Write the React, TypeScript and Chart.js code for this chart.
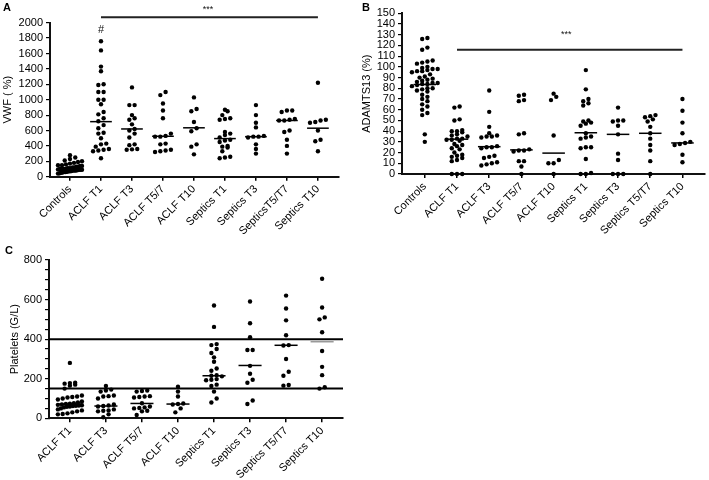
import React, { useEffect, useRef } from 'react';
import { Chart, registerables } from 'chart.js';
Chart.register(...registerables);

const FONT = '"Liberation Sans", Arial, Helvetica, sans-serif';

// ---------- Panel A : VWF ----------
const catsA = ['Controls', 'ACLF T1', 'ACLF T3', 'ACLF T5/7', 'ACLF T10', 'Septics T1', 'Septics T3', 'SepticsT5/T7', 'Septics T10'];
const vwfControls = [280, 250, 230, 210, 200, 190, 180, 170, 160, 150, 150, 140, 140, 130, 130, 120, 120, 110, 110, 110, 100, 100, 100, 100, 95, 90, 90, 90, 85, 80, 80, 80, 75, 70, 70, 65, 60, 60, 55, 50, 45, 40];
const vwfAclfT1 = [1760, 1640, 1430, 1370, 1200, 1190, 1100, 1100, 1000, 1000, 940, 840, 810, 760, 720, 670, 630, 570, 560, 500, 430, 420, 390, 360, 350, 340, 330, 240];
const vwfAclfT3 = [1160, 930, 930, 800, 760, 740, 680, 620, 600, 560, 510, 420, 410, 360, 355, 350];
const vwfAclfT57 = [1100, 1060, 950, 860, 760, 560, 530, 520, 520, 430, 420, 350, 340, 330, 320];
const vwfAclfT10 = [1030, 880, 850, 710, 630, 590, 420, 390, 290];
const vwfSepT1 = [870, 850, 800, 760, 750, 740, 580, 560, 540, 510, 480, 470, 450, 400, 390, 380, 330, 260, 250, 240];
const vwfSepT3 = [930, 800, 700, 640, 530, 520, 520, 510, 420, 360, 300];
const vwfSepT57 = [860, 860, 840, 750, 740, 730, 730, 600, 580, 480, 400, 300];
const vwfSepT10 = [1220, 740, 730, 710, 700, 600, 480, 460, 330];
const vwfMedians = [100, 715, 620, 525, 635, 495, 520, 730, 630];
const vwfTicks = [0, 200, 400, 600, 800, 1000, 1200, 1400, 1600, 1800, 2000];

// ---------- Panel B : ADAMTS13 ----------
const catsB = ['Controls', 'ACLF T1', 'ACLF T3', 'ACLF T5/7', 'ACLF T10', 'Septics T1', 'Septics T3', 'Septics T5/T7', 'Septics T10'];
const adControls = [127, 126, 118, 116, 106, 105, 104, 103, 100, 99, 98, 98, 97, 96, 96, 95, 93, 91, 90, 89, 88, 87, 86, 85, 85, 84, 84, 83, 82, 80, 80, 79, 78, 77, 74, 72, 70, 68, 65, 63, 60, 57, 55, 37, 30];
const adAclfT1 = [63, 62, 51, 50, 41, 40, 40, 39, 37, 36, 35, 33, 33, 32, 32, 31, 28, 27, 26, 24, 23, 20, 18, 17, 16, 15, 13, 12, 0, 0, 0];
const adAclfT3 = [78, 58, 44, 38, 36, 35, 35, 34, 26, 25, 25, 24, 17, 16, 15, 11, 10, 9, 8];
const adAclfT57 = [74, 73, 69, 68, 38, 37, 23, 22, 22, 21, 12, 12, 7, 0];
const adAclfT10 = [75, 72, 69, 36, 13, 10, 10, 0];
const adSepT1 = [97, 79, 70, 68, 66, 64, 50, 49, 48, 47, 45, 38, 35, 34, 33, 25, 25, 24, 14, 1, 0, 0];
const adSepT3 = [62, 50, 50, 49, 45, 37, 19, 13, 0, 0, 0];
const adSepT57 = [55, 54, 53, 51, 49, 44, 38, 33, 27, 22, 12, 0];
const adSepT10 = [70, 59, 48, 38, 30, 29, 28, 27, 18, 11];
const adMedians = [83.5, 32.5, 25.5, 22.5, 19.5, 38.5, 37, 38, 29];
const adTicks = [0, 10, 20, 30, 40, 50, 60, 70, 80, 90, 100, 110, 120, 130, 140, 150];

// ---------- Panel C : Platelets ----------
const catsC = ['ACLF T1', 'ACLF T3', 'ACLF T5/7', 'ACLF T10', 'Septics T1', 'Septics T3', 'Septics T5/T7', 'Septics T10'];
const plAclfT1 = [280, 180, 178, 175, 170, 165, 150, 115, 110, 108, 105, 100, 95, 85, 80, 76, 74, 72, 70, 68, 66, 65, 63, 62, 60, 58, 55, 50, 45, 40, 35, 30, 25, 22, 20];
const plAclfT3 = [163, 145, 140, 135, 115, 112, 110, 100, 70, 65, 62, 60, 45, 40, 38, 35, 20, 5];
const plAclfT57 = [140, 138, 135, 112, 110, 108, 105, 76, 60, 55, 52, 50, 38, 35, 17];
const plAclfT10 = [160, 135, 110, 75, 72, 70, 50, 30];
const plSepT1 = [570, 462, 375, 370, 350, 330, 308, 286, 252, 240, 218, 215, 212, 198, 195, 192, 170, 163, 135, 100, 80];
const plSepT3 = [590, 480, 410, 345, 345, 265, 225, 195, 180, 90, 72];
const plSepT57 = [620, 555, 495, 420, 370, 368, 300, 235, 215, 168, 165];
const plSepT10 = [705, 560, 510, 500, 435, 340, 260, 218, 157, 150];
const plMedians = [72, 62, 75, 72, 215, 267, 369, 387];
const plRefLines = [400, 150];
const plTicks = [0, 50, 100, 150, 200, 250, 300, 350, 400, 450, 500, 550, 600, 650, 700, 750, 800];
const plLabelled = [0, 200, 400, 600, 800];

const DOT = 4.4;

function swarmOffsets(values: number[], pxPerY: number, maxHalf: number): number[] {
  const idx = values.map((_, i) => i).sort((a, b) => values[a] - values[b]);
  const groups: number[][] = [];
  let cur: number[] = [];
  let start = -Infinity;
  for (const i of idx) {
    if ((values[i] - start) * pxPerY > DOT * 0.95) {
      if (cur.length) groups.push(cur);
      cur = [i];
      start = values[i];
    } else cur.push(i);
  }
  if (cur.length) groups.push(cur);
  const out = new Array(values.length).fill(0);
  for (const g of groups) {
    const n = g.length;
    let sp = DOT * 1.2;
    if (n > 1) sp = Math.min(sp, (2 * maxHalf) / (n - 1));
    g.forEach((i, j) => { out[i] = (j - (n - 1) / 2) * sp; });
  }
  return out;
}

type Note = { text: string; x: number; y: number; size: number };
type PanelCfg = {
  left: number; top: number; w: number; h: number;
  area: { left: number; right: number; top: number; bottom: number };
  cats: string[]; series: number[][]; medians: number[]; medColors?: string[];
  yMin: number; yMax: number; yTicks: number[]; yLabelled?: number[]; yTitle: string; yTitleSize: number; yTitlePad: number;
  xMin: number; xMax: number; medHalf: number; maxHalf: number;
  hlines?: number[]; sig?: { x1: number; x2: number; y: number }; notes?: Note[];
};

function buildConfig(cfg: PanelCfg): any {
  const { area } = cfg;
  const pxY = (area.bottom - area.top) / (cfg.yMax - cfg.yMin);
  const pxX = (area.right - area.left) / (cfg.xMax - cfg.xMin);
  const datasets: any[] = [];
  cfg.series.forEach((vals, i) => {
    const off = swarmOffsets(vals, pxY, cfg.maxHalf);
    datasets.push({
      data: vals.map((v, j) => ({ x: i + off[j] / pxX, y: v })),
      pointRadius: DOT / 2, pointBackgroundColor: '#000', pointBorderWidth: 0, pointBorderColor: '#000',
      showLine: false, clip: false,
    });
  });
  cfg.medians.forEach((m, i) => {
    datasets.push({
      data: [{ x: i - cfg.medHalf, y: m }, { x: i + cfg.medHalf, y: m }],
      showLine: true, borderColor: cfg.medColors ? cfg.medColors[i] : '#000', borderWidth: 1.5, pointRadius: 0, clip: false,
    });
  });
  (cfg.hlines || []).forEach((v) => {
    datasets.push({
      data: [{ x: cfg.xMin, y: v }, { x: cfg.xMax, y: v }],
      showLine: true, borderColor: '#000', borderWidth: 2, pointRadius: 0, clip: false,
    });
  });
  if (cfg.sig) {
    datasets.push({
      data: [{ x: cfg.sig.x1, y: cfg.sig.y }, { x: cfg.sig.x2, y: cfg.sig.y }],
      showLine: true, borderColor: '#222', borderWidth: 2, pointRadius: 0, clip: false,
    });
  }
  const notesPlugin = {
    id: 'notes',
    afterDatasetsDraw(chart: any) {
      const { ctx } = chart;
      const xs = chart.scales.x, ys = chart.scales.y;
      ctx.save();
      ctx.fillStyle = '#111';
      ctx.textAlign = 'center';
      ctx.textBaseline = 'middle';
      for (const n of cfg.notes || []) {
        ctx.font = `${n.size}px ${FONT}`;
        ctx.fillText(n.text, xs.getPixelForValue(n.x), ys.getPixelForValue(n.y));
      }
      ctx.restore();
    },
  };
  const labelled = cfg.yLabelled;
  return {
    type: 'scatter',
    data: { datasets },
    plugins: [notesPlugin],
    options: {
      animation: false, responsive: false, devicePixelRatio: 1,
      layout: { padding: { left: 0, top: area.top, right: cfg.w - area.right, bottom: 0 } },
      plugins: { legend: { display: false }, tooltip: { enabled: false } },
      scales: {
        x: {
          type: 'linear', min: cfg.xMin, max: cfg.xMax,
          afterBuildTicks: (s: any) => { s.ticks = cfg.cats.map((_, i) => ({ value: i })); },
          afterFit: (s: any) => { s.height = cfg.h - area.bottom; },
          ticks: {
            autoSkip: false, minRotation: 45, maxRotation: 45, padding: 2,
            color: '#000', font: { family: FONT, size: 11 },
            callback: (_v: any, i: number) => cfg.cats[i],
          },
          grid: { drawOnChartArea: false, drawTicks: true, tickLength: 4, color: '#000', lineWidth: 1.5 },
          border: { display: true, color: '#111', width: 2 },
        },
        y: {
          type: 'linear', min: cfg.yMin, max: cfg.yMax,
          afterBuildTicks: (s: any) => { s.ticks = cfg.yTicks.map((v) => ({ value: v })); },
          afterFit: (s: any) => { s.width = area.left; },
          ticks: {
            autoSkip: false, padding: 3, color: '#000', font: { family: FONT, size: 11 },
            callback: (v: any) => (labelled && !labelled.includes(v) ? '' : String(v)),
          },
          grid: { drawOnChartArea: false, drawTicks: true, tickLength: 4, color: '#000', lineWidth: 1.2 },
          border: { display: true, color: '#111', width: 2 },
          title: { display: true, text: cfg.yTitle, color: '#000', font: { family: FONT, size: cfg.yTitleSize }, padding: { top: cfg.yTitlePad, bottom: 0 } },
        },
      },
    },
  };
}

const panelA: PanelCfg = {
  left: 0, top: 0, w: 355, h: 240,
  area: { left: 50, right: 339, top: 22.7, bottom: 176.7 },
  cats: catsA,
  series: [vwfControls, vwfAclfT1, vwfAclfT3, vwfAclfT57, vwfAclfT10, vwfSepT1, vwfSepT3, vwfSepT57, vwfSepT10],
  medians: vwfMedians,
  yMin: 0, yMax: 2000, yTicks: vwfTicks, yTitle: 'VWF ( %)', yTitleSize: 11, yTitlePad: 1,
  xMin: -0.645, xMax: 8.68, medHalf: 0.35, maxHalf: 12,
  sig: { x1: 1, x2: 8, y: 2070 },
  notes: [{ text: '***', x: 4.45, y: 2165, size: 9 }, { text: '#', x: 1, y: 1900, size: 11 }],
};

const panelB: PanelCfg = {
  left: 355, top: 0, w: 354, h: 240,
  area: { left: 47, right: 352.7, top: 13.3, bottom: 174 },
  cats: catsB,
  series: [adControls, adAclfT1, adAclfT3, adAclfT57, adAclfT10, adSepT1, adSepT3, adSepT57, adSepT10],
  medians: adMedians,
  yMin: 0, yMax: 150, yTicks: adTicks, yTitle: 'ADAMTS13 (%)', yTitleSize: 11, yTitlePad: 5,
  xMin: -0.708, xMax: 8.7, medHalf: 0.35, maxHalf: 13,
  sig: { x1: 1, x2: 8, y: 116 },
  notes: [{ text: '***', x: 4.39, y: 130.5, size: 9 }],
};

const panelC: PanelCfg = {
  left: 0, top: 240, w: 355, h: 240,
  area: { left: 49, right: 343, top: 20, bottom: 178.3 },
  cats: catsC,
  series: [plAclfT1, plAclfT3, plAclfT57, plAclfT10, plSepT1, plSepT3, plSepT57, plSepT10],
  medians: plMedians,
  medColors: ['#000', '#000', '#000', '#000', '#000', '#000', '#000', '#999'],
  yMin: 0, yMax: 800, yTicks: plTicks, yLabelled: plLabelled, yTitle: 'Platelets (G/L)', yTitleSize: 11, yTitlePad: 8,
  xMin: -0.58, xMax: 7.58, medHalf: 0.32, maxHalf: 12,
  hlines: plRefLines,
};

function ChartPanel({ cfg }: { cfg: PanelCfg }) {
  const ref = useRef<HTMLCanvasElement>(null);
  useEffect(() => {
    const chart = new Chart(ref.current as HTMLCanvasElement, buildConfig(cfg));
    return () => chart.destroy();
  }, [cfg]);
  return (
    <canvas ref={ref} width={cfg.w} height={cfg.h}
      style={{ position: 'absolute', left: cfg.left, top: cfg.top, width: cfg.w, height: cfg.h, display: 'block' }} />
  );
}

const letterStyle = (left: number, top: number): React.CSSProperties => ({
  position: 'absolute', left, top, fontFamily: FONT, fontWeight: 'bold', fontSize: 11, lineHeight: '11px', color: '#000',
});

export default function App() {
  return (
    <div style={{ position: 'fixed', left: 0, top: 0, width: 709, height: 480, background: '#fff', overflow: 'hidden' }}>
      <ChartPanel cfg={panelA} />
      <ChartPanel cfg={panelB} />
      <ChartPanel cfg={panelC} />
      <div style={letterStyle(3, 2)}>A</div>
      <div style={letterStyle(362, 2)}>B</div>
      <div style={letterStyle(5, 245)}>C</div>
    </div>
  );
}
